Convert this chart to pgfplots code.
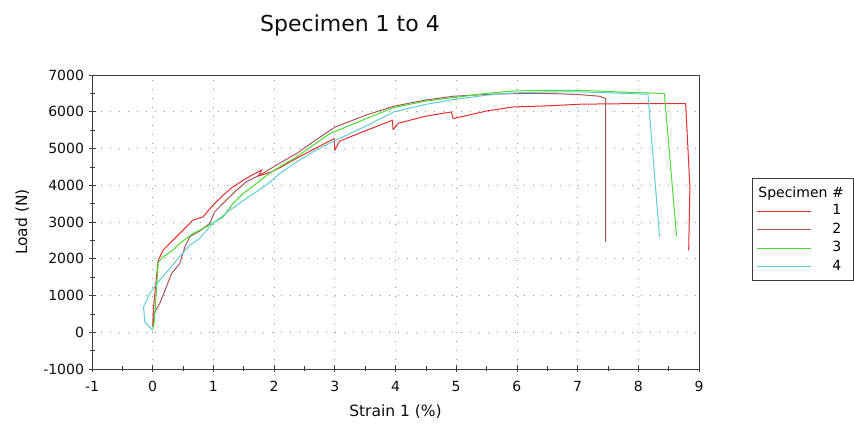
\documentclass[border=0pt]{standalone}
\usepackage{fontspec}
\setmainfont{DejaVu Sans}
\usepackage{pgfplots}
\pgfplotsset{compat=1.18}

\definecolor{spec1}{RGB}{230,45,45}
\definecolor{spec2}{RGB}{170,85,90}
\definecolor{spec3}{RGB}{70,220,50}
\definecolor{spec4}{RGB}{95,205,215}
\definecolor{frame}{RGB}{60,60,60}

\begin{document}
\begin{tikzpicture}[x=1pt,y=1pt]
\useasboundingbox (0,0) rectangle (854,433);
\node[font=\fontsize{22}{25}\selectfont, text=black!95] at (350,408) {Specimen 1 to 4};
\begin{axis}[
  at={(92pt,64pt)}, anchor=south west,
  scale only axis, width=607pt, height=294pt,
  xmin=-1, xmax=9, ymin=-1000, ymax=7000,
  xtick={-1,0,...,9}, ytick={-1000,0,...,7000},
  minor x tick num=1, minor y tick num=1,
  tick align=center, tick pos=left,
  major tick length=7pt, minor tick length=5pt,
  every tick/.style={frame, line width=0.7pt},
  axis line style={frame, line width=0.9pt},
  grid=major,
  major grid style={gray!80, line width=0.8pt, dash pattern=on 0.8pt off 8.2pt},
  /pgf/number format/assume math mode=true,
  /pgf/number format/1000 sep={},
  ticklabel style={font=\fontsize{14}{16}\selectfont, text=black!95},
  xticklabel style={yshift=-5pt},
  yticklabel style={xshift=-1pt},
  xlabel={Strain 1 (\%)}, ylabel={Load (N)},
  label style={font=\fontsize{15.5}{18}\selectfont, text=black!95},
  xlabel style={at={(axis description cs:0.5,-0.146)}, anchor=center},
  ylabel style={at={(axis description cs:-0.115,0.5)}, anchor=center},
  legend style={at={(axis description cs:1.0873,0.6497)}, anchor=north west,
    draw=frame, line width=0.8pt, fill=white, inner xsep=4pt, inner ysep=5pt,
    row sep=0pt, column sep=0pt,
    font=\fontsize{14}{16}\selectfont,
    nodes={inner sep=0pt, text height=13pt, text depth=5.5pt, text width=38pt, align=left}},
  legend image code/.code={\draw[#1, line width=1pt] (0pt,0pt) -- (54pt,0pt);},
  every axis plot/.append style={line width=1pt, line join=round},
]
\addlegendimage{legend image code/.code={\node[anchor=west, inner sep=0pt, overlay, text width=90pt, align=left, text height=13pt, text depth=4pt] at (1pt,0pt) {Specimen \#};}}
\addlegendentry{}

% specimen 1: slips at about 1.8, 3, 4 and 5 % strain
\addplot[spec1] table {
x y
0.00 150
0.01 600
0.05 1300
0.09 1950
0.17 2230
0.33 2500
0.50 2780
0.66 3048
0.83 3140
0.99 3456
1.16 3728
1.32 3954
1.49 4136
1.65 4290
1.80 4420
1.74 4250
1.78 4270
1.95 4360
2.10 4480
2.40 4760
2.70 5020
2.99 5270
3.00 4950
3.08 5200
3.50 5480
3.95 5770
3.96 5515
4.05 5690
4.50 5880
4.92 5995
4.95 5815
5.10 5870
5.50 6020
5.94 6131
6.50 6160
7.03 6204
7.50 6215
8.00 6222
8.50 6222
8.78 6222
8.85 3950
8.83 2230
};
\addlegendentry{\hspace*{21pt}1}

\addplot[spec2] table {
x y
0.01 200
0.02 508
0.115 780
0.225 1234
0.31 1596
0.445 1868
0.53 2322
0.61 2600
0.77 2750
0.94 2960
1.02 3274
1.21 3592
1.38 3864
1.54 4090
1.82 4330
2.09 4600
2.37 4862
2.64 5179
3.00 5580
3.50 5900
3.97 6150
4.50 6320
4.95 6422
5.50 6470
5.96 6495
6.50 6500
7.03 6467
7.36 6422
7.46 6358
7.46 2457
};
\addlegendentry{\hspace*{21pt}2}

\addplot[spec3] table {
x y
0.00 54
0.03 327
0.06 1100
0.09 1900
0.17 2050
0.33 2231
0.445 2413
0.66 2685
0.88 2866
1.16 3137
1.32 3502
1.49 3774
1.71 4046
1.90 4300
2.09 4500
2.37 4771
2.64 5088
2.92 5406
3.50 5800
3.97 6114
4.50 6290
4.95 6385
5.50 6500
5.96 6567
6.50 6585
7.03 6585
7.64 6540
8.43 6495
8.63 2612
};
\addlegendentry{\hspace*{21pt}3}

\addplot[spec4] table {
x y
0.00 54
-0.13 281
-0.15 689
-0.05 1053
0.115 1415
0.28 1733
0.44 2050
0.61 2367
0.77 2549
0.99 2957
1.27 3320
1.54 3638
1.87 4000
2.09 4317
2.37 4635
2.64 4907
2.92 5150
3.50 5600
3.97 5995
4.50 6200
4.95 6331
5.50 6450
5.96 6513
6.50 6540
7.03 6540
7.60 6510
8.16 6476
8.35 2594
};
\addlegendentry{\hspace*{21pt}4}
\end{axis}
\end{tikzpicture}
\end{document}
